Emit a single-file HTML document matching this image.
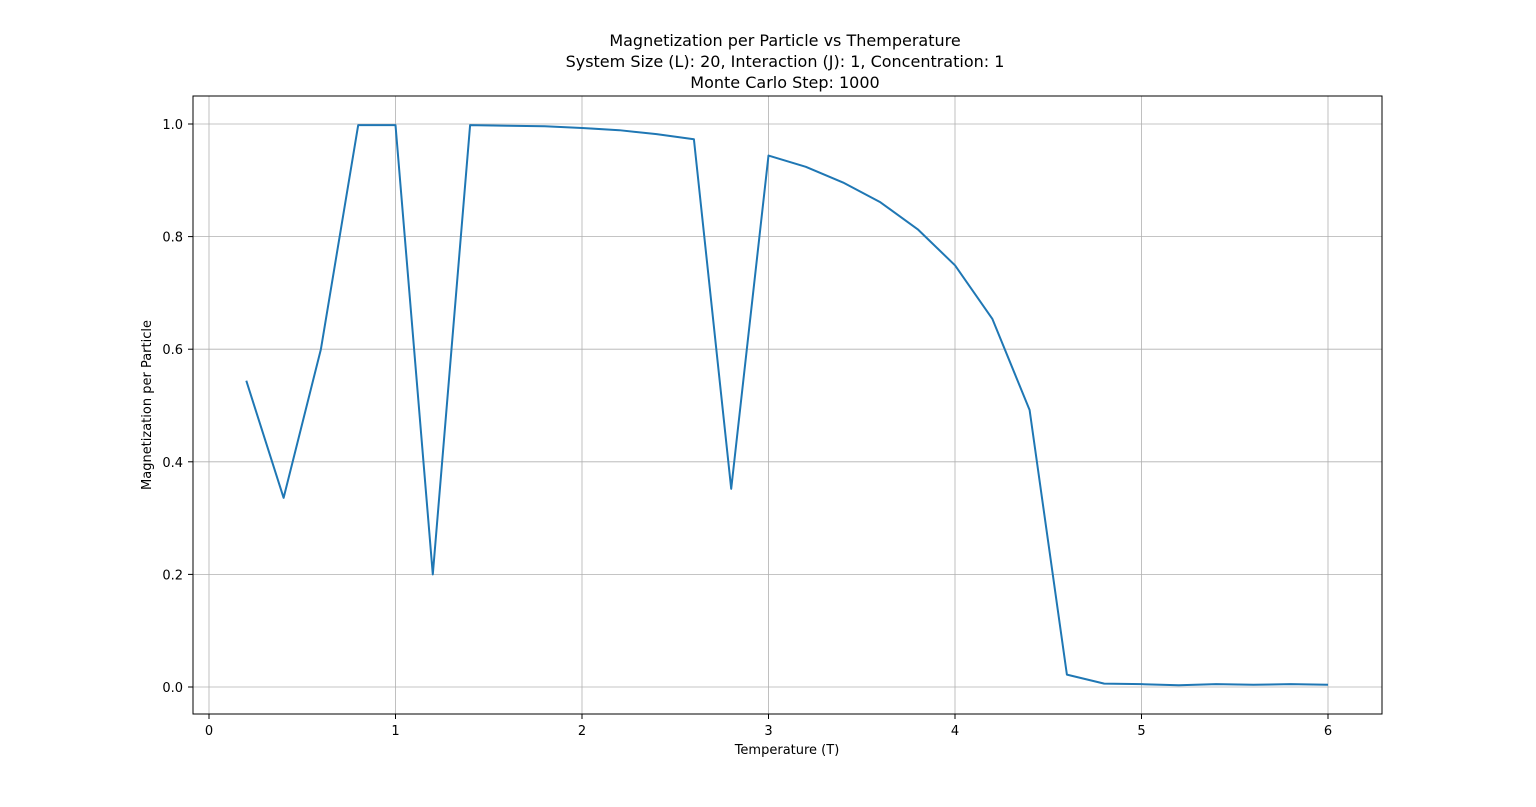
<!DOCTYPE html>
<html><head><meta charset="utf-8"><style>
body{margin:0;background:#fff;}
svg text{font-family:"DejaVu Sans","Liberation Sans",sans-serif;fill:#000;}
</style></head><body>
<svg id="chart" width="1536" height="802" xmlns="http://www.w3.org/2000/svg">
<text x="785" y="46" font-size="16" text-anchor="middle">Magnetization per Particle vs Themperature</text>
<text x="785" y="67" font-size="16" text-anchor="middle">System Size (L): 20, Interaction (J): 1, Concentration: 1</text>
<text x="785" y="88" font-size="16" text-anchor="middle">Monte Carlo Step: 1000</text>
<g id="grid"></g><g id="ticks"></g>
<polyline id="line" fill="none" stroke="#1f77b4" stroke-width="2" stroke-linejoin="round"/>
<rect x="193" y="96" width="1189" height="618" fill="none" stroke="#000" stroke-width="1"/>
<text x="787" y="754" font-size="13" text-anchor="middle">Temperature (T)</text>
<text transform="translate(151,405) rotate(-90)" font-size="13" text-anchor="middle">Magnetization per Particle</text>
</svg>
<script>
const temps=[0.2,0.4,0.6,0.8,1.0,1.2,1.4,1.6,1.8,2.0,2.2,2.4,2.6,2.8,3.0,3.2,3.4,3.6,3.8,4.0,4.2,4.4,4.6,4.8,5.0,5.2,5.4,5.6,5.8,6.0];
const mags=[0.544,0.336,0.600,0.998,0.998,0.200,0.998,0.997,0.996,0.993,0.989,0.982,0.973,0.352,0.944,0.924,0.896,0.861,0.813,0.749,0.654,0.492,0.022,0.006,0.005,0.003,0.005,0.004,0.005,0.004];
const xTicks=[0,1,2,3,4,5,6];
const yTicks=[0.0,0.2,0.4,0.6,0.8,1.0];
const X=v=>209+v*186.5, Y=v=>687-v*563;
const NS="http://www.w3.org/2000/svg";
const grid=document.getElementById('grid'), ticks=document.getElementById('ticks');
function mk(tag,attrs,parent){const e=document.createElementNS(NS,tag);for(const k in attrs)e.setAttribute(k,attrs[k]);parent.appendChild(e);return e;}
xTicks.forEach(t=>{
  const g=mk('line',{x1:X(t),x2:X(t),y1:96,y2:714,stroke:'#b0b0b0','stroke-width':0.8},grid);
  
  
  const tk=mk('line',{x1:X(t),x2:X(t),y1:714,y2:719,stroke:'#000'},ticks);
  
  
  const tx=mk('text',{x:X(t),y:735,'font-size':13,'text-anchor':'middle'},ticks);
  tx.textContent=t;
  
  
});
yTicks.forEach(t=>{
  const g=mk('line',{x1:193,x2:1382,y1:Y(t),y2:Y(t),stroke:'#b0b0b0','stroke-width':0.8},grid);
  
  
  const tk=mk('line',{x1:188,x2:193,y1:Y(t),y2:Y(t),stroke:'#000'},ticks);
  
  
  const tx=mk('text',{x:183,y:Y(t)+5,'font-size':13,'text-anchor':'end'},ticks);
  tx.textContent=t.toFixed(1);
  
  
});
document.getElementById('line').setAttribute('points',temps.map((t,i)=>X(t)+','+Y(mags[i])).join(' '));
</script>
</body></html>
